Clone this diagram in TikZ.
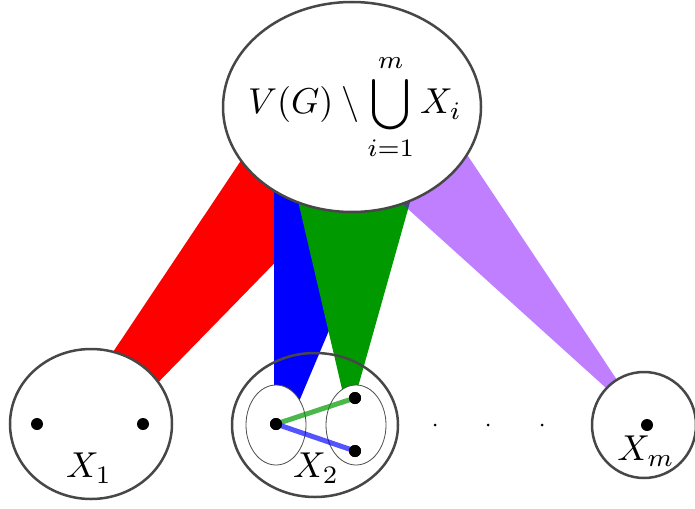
\documentclass[tikz,border=0pt]{standalone}
\usetikzlibrary{shapes.geometric}
\definecolor{bandgreen}{rgb}{0,0.6,0}
\definecolor{bandpurple}{rgb}{0.5,0,1}
\begin{document}
\begin{tikzpicture}[x=1pt,y=-1pt,
  outer/.style={ellipse, draw=black!72, line width=2.5pt, fill=white, inner sep=0pt},
  inner/.style={ellipse, draw=black!70, line width=0.8pt, fill=white, inner sep=0pt, minimum width=60pt, minimum height=80pt},
  vdot/.style={circle, fill=black, inner sep=0pt, minimum size=12pt},
  sdot/.style={circle, fill=black, inner sep=0pt, minimum size=3pt},
  lbl/.style={scale=3.6, inner sep=0pt}]
\useasboundingbox (0,0) rectangle (695,508);
% bands
\fill[red] (81,400) -- (248,150) -- (336,200) -- (141,400) -- cycle;
\fill[blue] (274,185) -- (384,200) -- (287,430) -- (274,430) -- cycle;
\fill[bandgreen] (295.5,190) -- (412,195) -- (349,419) -- cycle;
\fill[bandpurple, opacity=0.5] (398,200) -- (464,150) -- (647,425) -- cycle;
% sets
\node[outer, minimum width=258pt, minimum height=210pt] (top) at (352,107) {};
\node[lbl] (toptext) at (355,107) {$\displaystyle V(G)\setminus\bigcup_{i=1}^{m} X_i$};
\node[outer, minimum width=162pt, minimum height=150pt] (X1) at (91,424) {};
\node[outer, minimum width=104pt, minimum height=106pt] (Xm) at (644,425) {};
\node[inner] (A) at (276,425) {};
\node[inner] (B) at (356,425) {};
\node[outer, fill=none, minimum width=166pt, minimum height=144pt] (X2) at (315,425) {};
% vertices
\node[vdot] (u1) at (37,424) {};
\node[vdot] (u2) at (143,424) {};
\node[vdot] (a) at (276,424) {};
\node[vdot] (b1) at (355,398) {};
\node[vdot] (b2) at (355,451) {};
\node[vdot] (w) at (647,425) {};
\draw[bandgreen, opacity=0.7, line width=5pt] (a.center) -- (b1.center);
\draw[blue, opacity=0.67, line width=5pt] (a.center) -- (b2.center);
\node[vdot] at (a) {};
\node[vdot] at (b1) {};
\node[vdot] at (b2) {};
% ellipsis dots
\node[sdot] (e1) at (435,425) {};
\node[sdot] (e2) at (488,425) {};
\node[sdot] (e3) at (542,425) {};
% labels
\node[lbl] (L1) at (89,468) {$X_1$};
\node[lbl] (L2) at (316,468) {$X_2$};
\node[lbl] (Lm) at (646,451) {$X_m$};
\end{tikzpicture}
\end{document}
